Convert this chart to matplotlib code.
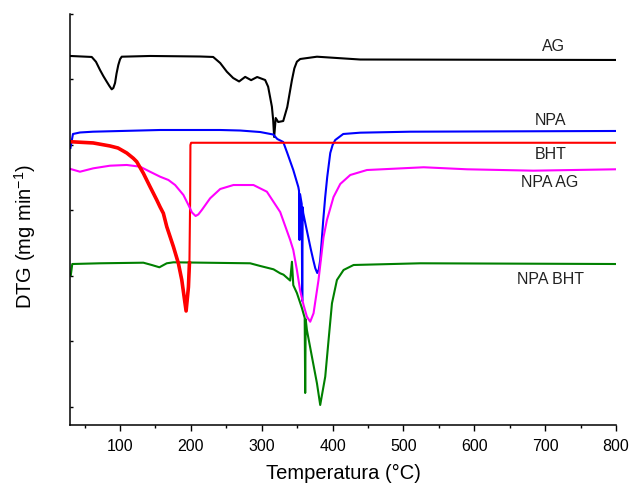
import matplotlib

matplotlib.use("Agg")
import matplotlib.pyplot as plt
from matplotlib.ticker import MultipleLocator

plt.rcParams["font.family"] = ["Liberation Sans", "DejaVu Sans"]
plt.rcParams["mathtext.fontset"] = "custom"
plt.rcParams["mathtext.rm"] = "Liberation Sans"
plt.rcParams["mathtext.it"] = "Liberation Sans:italic"

# DTG curves, temperature in degC, signal in arbitrary offset units
ag_t = [30, 60, 66, 71.7, 76.5, 81.2, 85, 88.2, 90.5, 92.9, 95, 97.5, 100,
        102.3, 142.3, 213, 231.4, 241.3, 250.7, 259.6, 268, 276.6, 285, 293.5,
        304.8, 309, 314.3, 316.1, 317.5, 319.7, 323.2, 330.3, 336, 339.5,
        342.6, 346, 349.6, 354.3, 377.9, 439, 800]
ag_v = [5.359, 5.344, 5.27, 5.145, 5.05, 4.966, 4.90, 4.850, 4.87, 4.947,
        5.09, 5.221, 5.31, 5.348, 5.359, 5.351, 5.344, 5.252, 5.119, 5.023,
        4.97, 5.04, 4.99, 5.038, 4.992, 4.890, 4.585, 4.382, 4.122, 4.412,
        4.351, 4.366, 4.580, 4.80, 4.992, 5.17, 5.272, 5.313, 5.348, 5.305,
        5.298]

npa_t = [30, 30.7, 33.5, 43.4, 61.8, 156.5, 241.3, 269.6, 297.8, 316.2, 321.9,
         330.3, 336, 344.5, 351.6, 352.6, 353.3, 354, 356.4, 357.1, 357.8,
         358.5, 362, 365.6, 369, 372.7, 375.5, 378.3, 380.5, 382.5, 384.5,
         386.8, 389.5, 392.4, 396.7, 400, 403.7, 415, 439, 509.7, 800]
npa_v = [3.954, 4.0, 4.168, 4.191, 4.203, 4.229, 4.229, 4.221, 4.198, 4.160,
         4.092, 4.046, 3.878, 3.618, 3.359, 3.30, 2.55, 3.25, 3.10, 1.618,
         3.05, 2.962, 2.78, 2.595, 2.42, 2.244, 2.12, 2.046, 2.10, 2.244, 2.52,
         2.855, 3.20, 3.511, 3.878, 4.00, 4.076, 4.168, 4.188, 4.203, 4.214]

bht_t = [30, 62.2, 85.8, 97.1, 109.4, 118.7, 123.5, 132.9, 142.3, 147, 151.8,
         156.5, 161.1, 165.9, 175.3, 182.3, 187.1, 193.2, 196.5, 197.9, 198.9,
         199.3, 200.3, 800]
bht_v = [4.050, 4.031, 3.985, 3.954, 3.878, 3.797, 3.745, 3.568, 3.363, 3.263,
         3.160, 3.053, 2.957, 2.753, 2.447, 2.194, 1.939, 1.466, 1.832, 2.198,
         3.160, 4.000, 4.034, 4.034]

npa_ag_t = [30, 43.4, 62.2, 85.8, 109.4, 128.2, 142.3, 156.5, 168.2, 177.7,
            189.4, 196.5, 201.5, 206.6, 210.5, 215.4, 227.1, 241.3, 260, 288.3,
            307.2, 326, 340.1, 344.5, 349.6, 354.3, 359, 363.7, 368.4, 373.1,
            380.1, 387.2, 392, 401.3, 410.8, 424.9, 448.5, 528.5, 589.8, 683.5,
            800]
npa_ag_v = [3.634, 3.592, 3.644, 3.684, 3.695, 3.669, 3.592, 3.516, 3.466,
            3.389, 3.237, 3.084, 2.97, 2.916, 2.94, 3.008, 3.186, 3.328, 3.389,
            3.389, 3.287, 2.977, 2.550, 2.397, 2.092, 1.771, 1.557, 1.379,
            1.302, 1.431, 1.939, 2.595, 2.855, 3.206, 3.405, 3.542, 3.618,
            3.660, 3.629, 3.608, 3.629]

npa_bht_t = [30.5, 32.5, 71.7, 132.9, 144.7, 155.5, 165.9, 175.3, 283.6, 297.8,
             316.6, 326, 330.7, 340.1, 342.6, 344.5, 349.6, 356.7, 360.6, 361.3,
             362, 363.7, 370.8, 377.9, 382.5, 389.6, 394.3, 399.1, 406.1, 415.5,
             429.6, 523.8, 800]
npa_bht_v = [2.015, 2.183, 2.194, 2.203, 2.168, 2.133, 2.194, 2.209, 2.194,
             2.153, 2.102, 2.041, 2.02, 1.93, 2.218, 1.86, 1.74, 1.51, 1.36,
             0.214, 1.34, 1.176, 0.768, 0.362, 0.031, 0.463, 1.023, 1.583,
             1.939, 2.092, 2.168, 2.194, 2.183]

series = [
    ("AG", ag_t, ag_v, "black", (711.8, 5.50)),
    ("NPA", npa_t, npa_v, "#0000ff", (707.5, 4.38)),
    ("BHT", bht_t, bht_v, "#ff0000", (707.5, 3.85)),
    ("NPA AG", npa_ag_t, npa_ag_v, "#ff00ff", (706.5, 3.42)),
    ("NPA BHT", npa_bht_t, npa_bht_v, "#008000", (707.5, 1.94)),
]

fig = plt.figure(figsize=(6.31, 4.91), dpi=100)
ax = fig.add_axes([0.1117, 0.1344, 0.8645, 0.8371])

for name, t, v, color, (tx, ty) in series:
    ax.plot(t, v, color=color, lw=1.5, solid_joinstyle="round")
    ax.text(tx, ty, name, color="#222222", fontsize=11.5, ha="center", va="center")

# the noisy BHT evaporation stretch reads thicker than its step edge
n_noisy = bht_t.index(197.9) + 1
ax.plot(bht_t[:n_noisy], bht_v[:n_noisy], color="#ff0000", lw=2.6)

ax.set_xlim(30, 800)
ax.set_ylim(-0.275, 6.0)
ax.xaxis.set_major_locator(MultipleLocator(100))
ax.xaxis.set_minor_locator(MultipleLocator(50))
ax.set_yticks(range(0, 7))
ax.set_yticklabels([])
ax.set_xticks([100, 200, 300, 400, 500, 600, 700, 800])

ax.tick_params(axis="x", which="major", direction="out", length=4, width=1,
               labelsize=11.5, pad=6)
ax.tick_params(axis="x", which="minor", direction="out", length=2.5, width=1)
ax.tick_params(axis="y", which="major", direction="in", length=2.5, width=1)

for side in ("top", "right"):
    ax.spines[side].set_visible(False)
for side in ("left", "bottom"):
    ax.spines[side].set_linewidth(1.1)

ax.set_xlabel("Temperatura (°C)", fontsize=14.5, labelpad=7)
ax.set_ylabel("DTG (mg min$^{-1}$)", fontsize=14.5)
ax.yaxis.set_label_coords(-0.06, 0.4586)

fig.savefig("out.png", dpi=100)
plt.close(fig)
